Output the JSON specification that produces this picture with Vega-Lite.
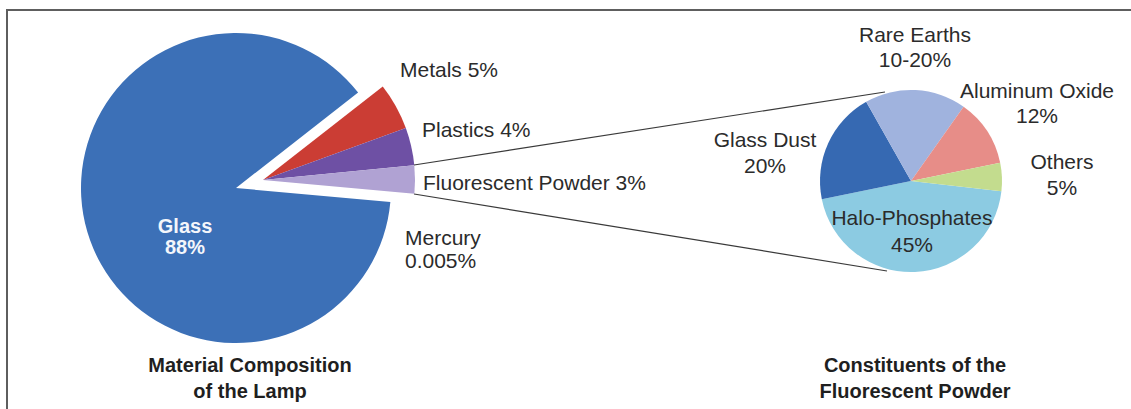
{
  "$schema": "https://vega.github.io/schema/vega-lite/v6.json",
  "width": 1128,
  "height": 403,
  "autosize": {"type": "none"},
  "padding": {"left": 7, "top": 10, "right": -4, "bottom": -4},
  "background": "white",
  "config": {
    "view": {"stroke": "#5e5e5e", "strokeWidth": 2},
    "axis": {"disable": true},
    "legend": {"disable": true},
    "text": {"font": "Liberation Sans", "fontSize": 21, "color": "#2b2b2b"}
  },
  "datasets": {
    "lamp": [
      {"part": "Glass", "share": 88, "pct": "88%"},
      {"part": "Metals", "share": 5, "pct": "5%"},
      {"part": "Plastics", "share": 4, "pct": "4%"},
      {"part": "Fluorescent Powder", "share": 3, "pct": "3%"},
      {"part": "Mercury", "share": 0.005, "pct": "0.005%"}
    ],
    "powder": [
      {"part": "Halo-Phosphates", "share": 45, "pct": "45%"},
      {"part": "Glass Dust", "share": 20, "pct": "20%"},
      {"part": "Rare Earths", "share": 18, "pct": "10-20%"},
      {"part": "Aluminum Oxide", "share": 12, "pct": "12%"},
      {"part": "Others", "share": 5, "pct": "5%"}
    ],
    "charts": [
      {"chart": "Lamp", "title": "Material Composition\nof the Lamp"},
      {"chart": "Powder", "title": "Constituents of the\nFluorescent Powder"}
    ]
  },
  "resolve": {"scale": {"theta": "independent"}},
  "layer": [
    {
      "data": {"name": "lamp"},
      "mark": {"type": "arc", "radius": 155},
      "encoding": {
        "x": {"datum": "Lamp", "type": "nominal", "scale": {"type": "point", "domain": ["Lamp", "Powder"], "range": [229, 904], "padding": 0}},
        "y": {"datum": "Lamp", "type": "nominal", "scale": {"type": "point", "domain": ["Lamp", "Powder"], "range": [178, 171], "padding": 0}},
        "theta": {"field": "share", "type": "quantitative", "stack": true, "scale": {"range": [1.6616, 7.9448]}},
        "order": {"field": "share", "sort": "descending"},
        "color": {
          "field": "part", "type": "nominal",
          "scale": {
            "domain": ["Glass", "Metals", "Plastics", "Fluorescent Powder", "Mercury", "Halo-Phosphates", "Glass Dust", "Rare Earths", "Aluminum Oxide", "Others"],
            "range": ["#3c70b7", "#cb3d34", "#6e50a4", "#b0a2d3", "#4aacc6", "#8ccbe2", "#3669b2", "#a0b3de", "#e78d88", "#c3dc8e"]
          }
        },
        "fillOpacity": {"condition": {"test": "datum.part === 'Glass'", "value": 1}, "value": 0}
      }
    },
    {
      "data": {"name": "lamp"},
      "mark": {"type": "arc", "radius": 152, "xOffset": 27, "yOffset": -8},
      "encoding": {
        "x": {"datum": "Lamp", "type": "nominal"},
        "y": {"datum": "Lamp", "type": "nominal"},
        "theta": {"field": "share", "type": "quantitative", "stack": true, "scale": {"range": [1.6616, 7.9448]}},
        "order": {"field": "share", "sort": "descending"},
        "color": {"field": "part", "type": "nominal"},
        "fillOpacity": {"condition": {"test": "datum.part === 'Glass'", "value": 0}, "value": 1}
      }
    },
    {
      "data": {"name": "powder"},
      "mark": {"type": "arc", "radius": 91},
      "encoding": {
        "x": {"datum": "Powder", "type": "nominal"},
        "y": {"datum": "Powder", "type": "nominal"},
        "theta": {"field": "share", "type": "quantitative", "stack": true, "scale": {"range": [1.6843, 7.9675]}},
        "order": {"field": "share", "sort": "descending"},
        "color": {"field": "part", "type": "nominal"}
      }
    },
    {
      "data": {"name": "lamp"},
      "transform": [{"filter": "datum.part === 'Fluorescent Powder'"}],
      "mark": {"type": "rule", "color": "#3a3a3a", "strokeWidth": 1.2, "xOffset": 178, "yOffset": -23, "x2Offset": -26, "y2Offset": -89},
      "encoding": {
        "x": {"datum": "Lamp", "type": "nominal"},
        "y": {"datum": "Lamp", "type": "nominal"},
        "x2": {"datum": "Powder"},
        "y2": {"datum": "Powder"}
      }
    },
    {
      "data": {"name": "lamp"},
      "transform": [{"filter": "datum.part === 'Fluorescent Powder'"}],
      "mark": {"type": "rule", "color": "#3a3a3a", "strokeWidth": 1.2, "xOffset": 178, "yOffset": 6, "x2Offset": -24, "y2Offset": 90},
      "encoding": {
        "x": {"datum": "Lamp", "type": "nominal"},
        "y": {"datum": "Lamp", "type": "nominal"},
        "x2": {"datum": "Powder"},
        "y2": {"datum": "Powder"}
      }
    },
    {
      "data": {"name": "lamp"},
      "transform": [{"filter": "datum.part === 'Glass'"}, {"calculate": "datum.part + '\\n' + datum.pct", "as": "caption"}],
      "mark": {"type": "text", "align": "center", "baseline": "alphabetic", "lineBreak": "\n", "lineHeight": 21, "fontWeight": "bold", "fontSize": 20, "color": "#f4f6fb", "dx": -51, "dy": 45},
      "encoding": {"x": {"datum": "Lamp", "type": "nominal"}, "y": {"datum": "Lamp", "type": "nominal"}, "text": {"field": "caption"}}
    },
    {
      "data": {"name": "lamp"},
      "transform": [{"filter": "datum.part === 'Metals'"}, {"calculate": "datum.part + ' ' + datum.pct", "as": "caption"}],
      "mark": {"type": "text", "align": "left", "baseline": "alphabetic", "dx": 164, "dy": -111},
      "encoding": {"x": {"datum": "Lamp", "type": "nominal"}, "y": {"datum": "Lamp", "type": "nominal"}, "text": {"field": "caption"}}
    },
    {
      "data": {"name": "lamp"},
      "transform": [{"filter": "datum.part === 'Plastics'"}, {"calculate": "datum.part + ' ' + datum.pct", "as": "caption"}],
      "mark": {"type": "text", "align": "left", "baseline": "alphabetic", "dx": 186, "dy": -51},
      "encoding": {"x": {"datum": "Lamp", "type": "nominal"}, "y": {"datum": "Lamp", "type": "nominal"}, "text": {"field": "caption"}}
    },
    {
      "data": {"name": "lamp"},
      "transform": [{"filter": "datum.part === 'Fluorescent Powder'"}, {"calculate": "datum.part + '  ' + datum.pct", "as": "caption"}],
      "mark": {"type": "text", "align": "left", "baseline": "alphabetic", "dx": 187, "dy": 2},
      "encoding": {"x": {"datum": "Lamp", "type": "nominal"}, "y": {"datum": "Lamp", "type": "nominal"}, "text": {"field": "caption"}}
    },
    {
      "data": {"name": "lamp"},
      "transform": [{"filter": "datum.part === 'Mercury'"}, {"calculate": "datum.part + '\\n' + datum.pct", "as": "caption"}],
      "mark": {"type": "text", "align": "left", "baseline": "alphabetic", "lineBreak": "\n", "lineHeight": 23, "dx": 169, "dy": 57},
      "encoding": {"x": {"datum": "Lamp", "type": "nominal"}, "y": {"datum": "Lamp", "type": "nominal"}, "text": {"field": "caption"}}
    },
    {
      "data": {"name": "powder"},
      "transform": [{"filter": "datum.part === 'Rare Earths'"}, {"calculate": "datum.part + '\\n' + datum.pct", "as": "caption"}],
      "mark": {"type": "text", "align": "center", "baseline": "alphabetic", "lineBreak": "\n", "lineHeight": 25, "dx": 4, "dy": -139},
      "encoding": {"x": {"datum": "Powder", "type": "nominal"}, "y": {"datum": "Powder", "type": "nominal"}, "text": {"field": "caption"}}
    },
    {
      "data": {"name": "powder"},
      "transform": [{"filter": "datum.part === 'Aluminum Oxide'"}, {"calculate": "replace(datum.part, ' ', '  ') + '\\n' + datum.pct", "as": "caption"}],
      "mark": {"type": "text", "align": "center", "baseline": "alphabetic", "lineBreak": "\n", "lineHeight": 25, "dx": 126, "dy": -83},
      "encoding": {"x": {"datum": "Powder", "type": "nominal"}, "y": {"datum": "Powder", "type": "nominal"}, "text": {"field": "caption"}}
    },
    {
      "data": {"name": "powder"},
      "transform": [{"filter": "datum.part === 'Others'"}, {"calculate": "datum.part + '\\n' + datum.pct", "as": "caption"}],
      "mark": {"type": "text", "align": "center", "baseline": "alphabetic", "lineBreak": "\n", "lineHeight": 26, "dx": 151, "dy": -12},
      "encoding": {"x": {"datum": "Powder", "type": "nominal"}, "y": {"datum": "Powder", "type": "nominal"}, "text": {"field": "caption"}}
    },
    {
      "data": {"name": "powder"},
      "transform": [{"filter": "datum.part === 'Glass Dust'"}, {"calculate": "datum.part + '\\n' + datum.pct", "as": "caption"}],
      "mark": {"type": "text", "align": "center", "baseline": "alphabetic", "lineBreak": "\n", "lineHeight": 26, "dx": -146, "dy": -34},
      "encoding": {"x": {"datum": "Powder", "type": "nominal"}, "y": {"datum": "Powder", "type": "nominal"}, "text": {"field": "caption"}}
    },
    {
      "data": {"name": "powder"},
      "transform": [{"filter": "datum.part === 'Halo-Phosphates'"}, {"calculate": "datum.part + '\\n' + datum.pct", "as": "caption"}],
      "mark": {"type": "text", "align": "center", "baseline": "alphabetic", "lineBreak": "\n", "lineHeight": 27, "dx": 1, "dy": 44},
      "encoding": {"x": {"datum": "Powder", "type": "nominal"}, "y": {"datum": "Powder", "type": "nominal"}, "text": {"field": "caption"}}
    },
    {
      "data": {"name": "charts"},
      "transform": [{"filter": "datum.chart === 'Lamp'"}],
      "mark": {"type": "text", "align": "center", "baseline": "alphabetic", "lineBreak": "\n", "lineHeight": 26, "fontWeight": "bold", "fontSize": 20, "color": "#1f1f1f", "dx": 14, "dy": 184},
      "encoding": {"x": {"field": "chart", "type": "nominal"}, "y": {"field": "chart", "type": "nominal"}, "text": {"field": "title"}}
    },
    {
      "data": {"name": "charts"},
      "transform": [{"filter": "datum.chart === 'Powder'"}],
      "mark": {"type": "text", "align": "center", "baseline": "alphabetic", "lineBreak": "\n", "lineHeight": 26, "fontWeight": "bold", "fontSize": 20, "color": "#1f1f1f", "dx": 4, "dy": 191},
      "encoding": {"x": {"field": "chart", "type": "nominal"}, "y": {"field": "chart", "type": "nominal"}, "text": {"field": "title"}}
    }
  ]
}
